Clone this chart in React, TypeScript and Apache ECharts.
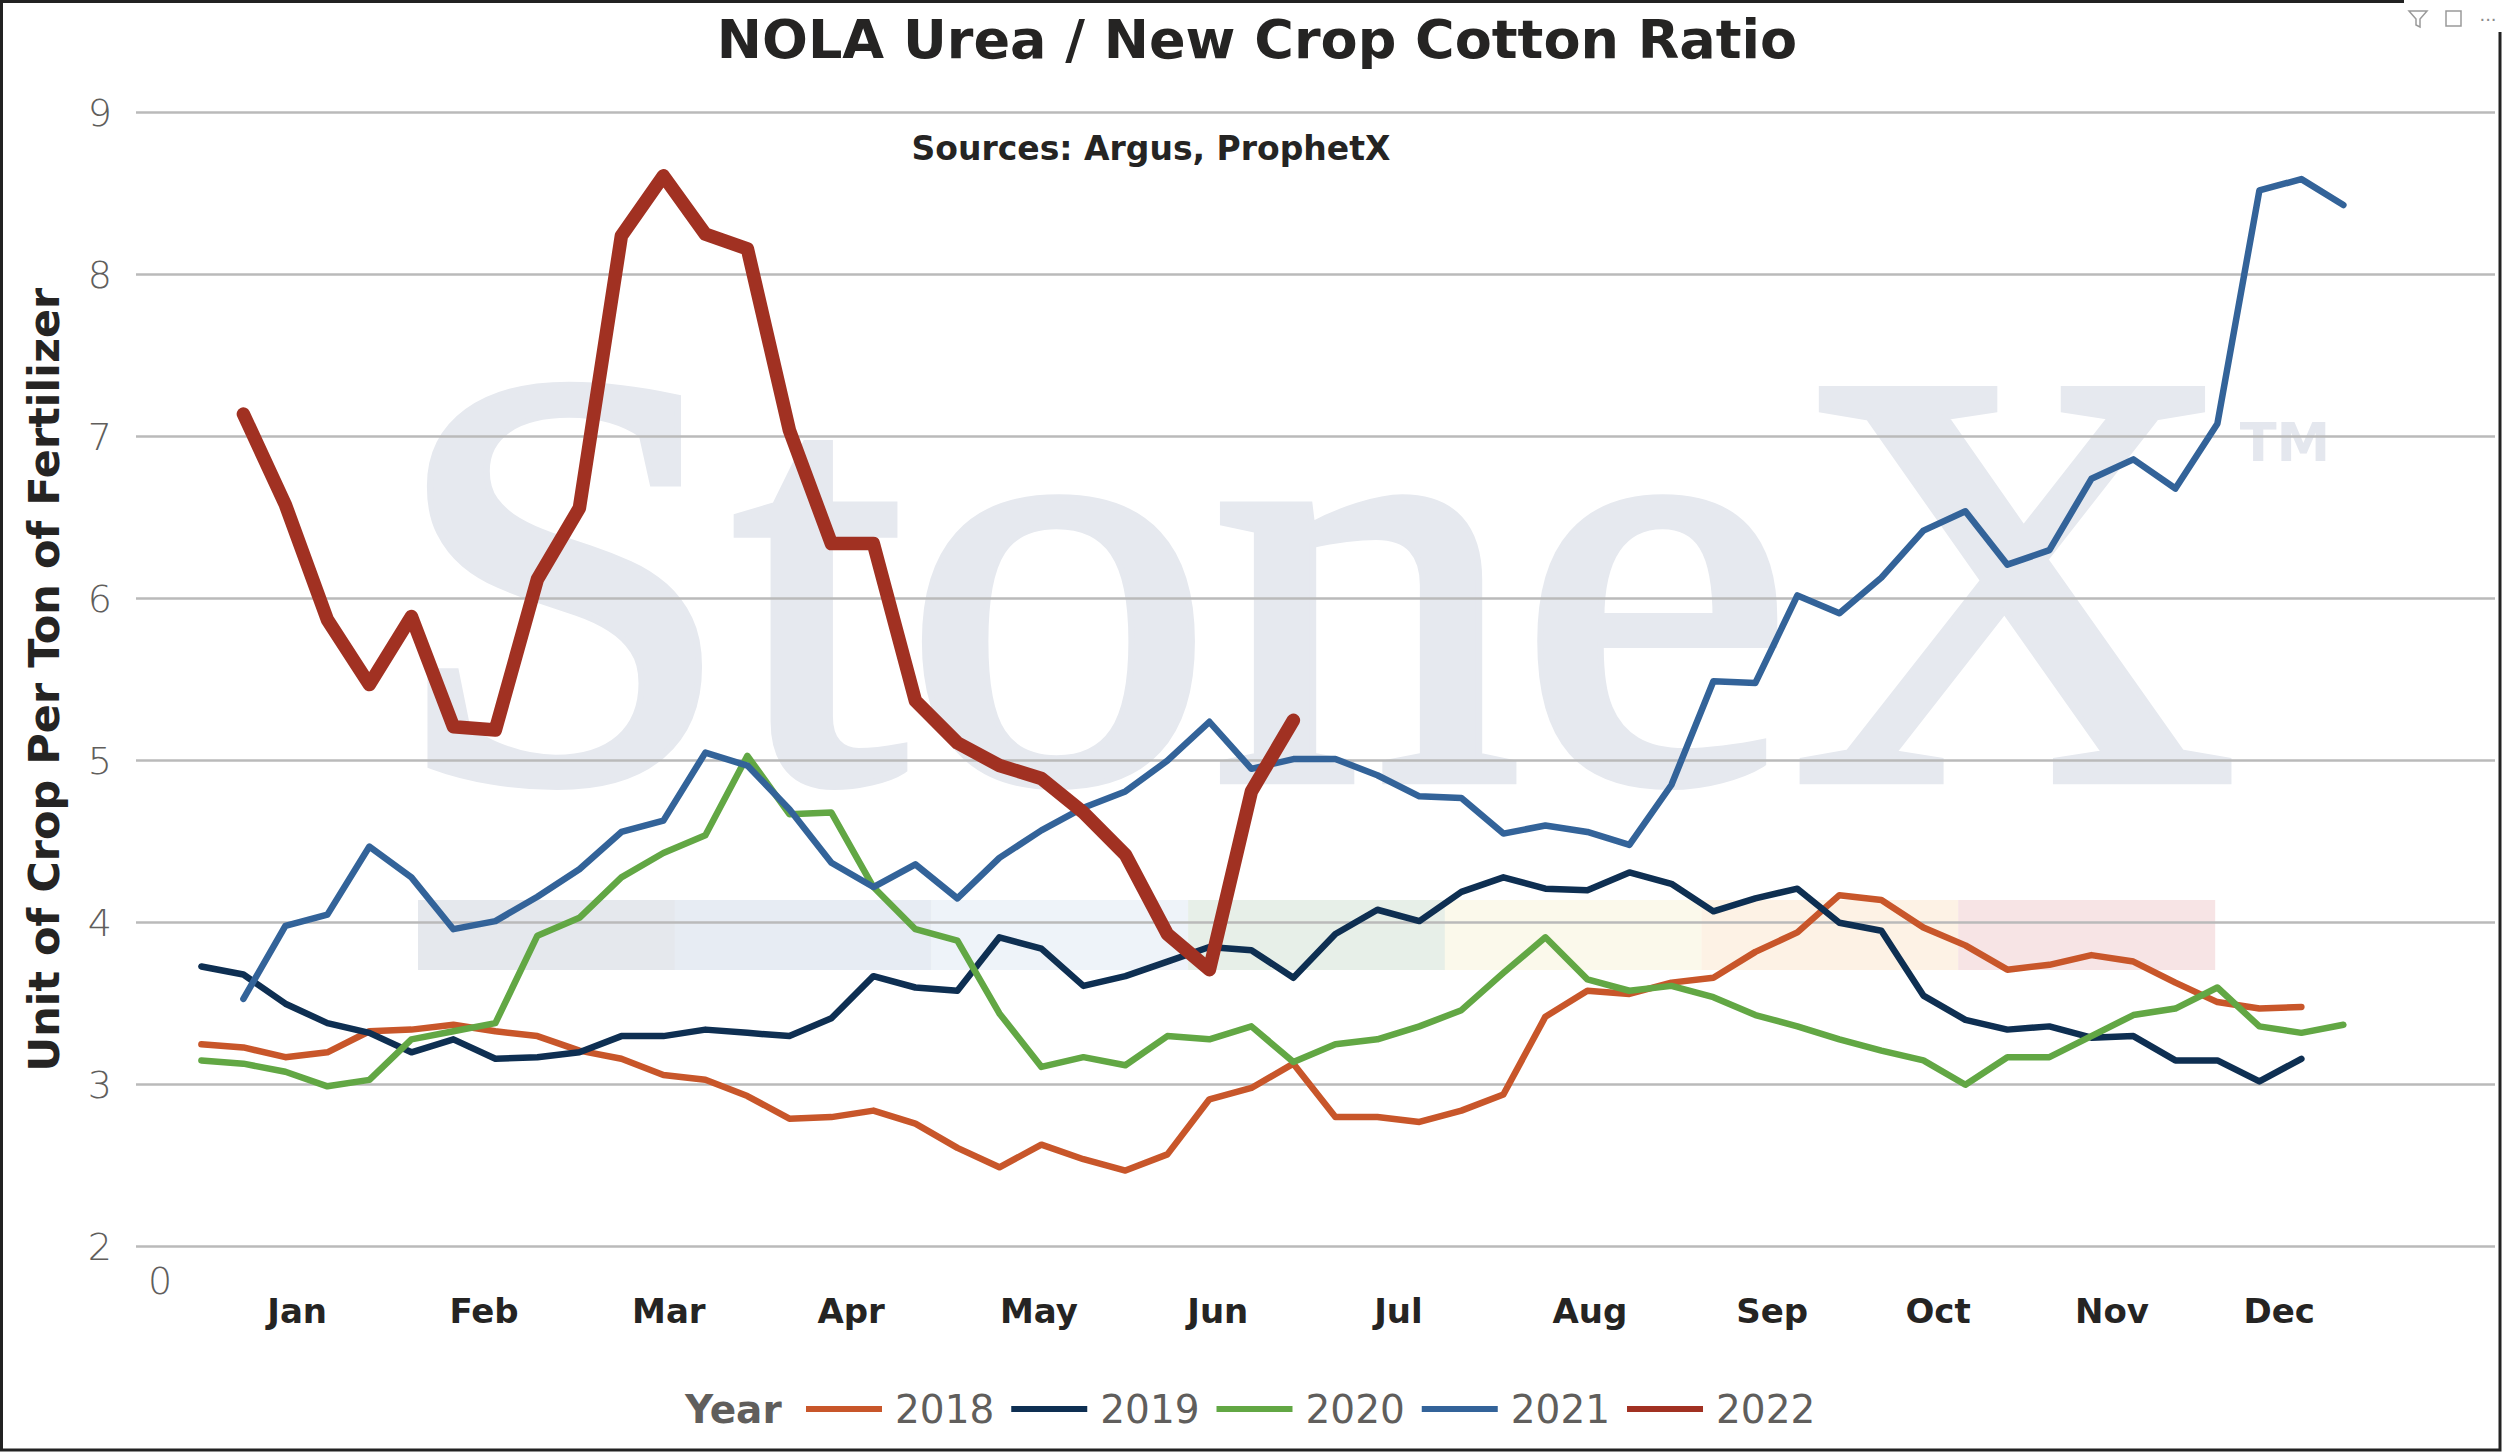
import React, { useEffect, useRef } from "react";
import * as echarts from "echarts";

// weekly NOLA urea / new crop cotton ratio, x = week slot of the year
const years = ["2018", "2019", "2020", "2021", "2022"];
const yearColors = ["#C8562A", "#0E2F52", "#62A744", "#336399", "#A13122"];
const firstWeek = [0, 0, 0, 1, 1];

const ratio2018 = [
  3.25, 3.23, 3.17, 3.2, 3.33, 3.34, 3.37, 3.33, 3.3, 3.21, 3.16, 3.06, 3.03,
  2.93, 2.79, 2.8, 2.84, 2.76, 2.61, 2.49, 2.63, 2.54, 2.47, 2.57, 2.91, 2.98,
  3.13, 2.8, 2.8, 2.77, 2.84, 2.94, 3.42, 3.58, 3.56, 3.63, 3.66, 3.82, 3.94,
  4.17, 4.14, 3.97, 3.86, 3.71, 3.74, 3.8, 3.76, 3.63, 3.51, 3.47, 3.48,
];
const ratio2019 = [
  3.73, 3.68, 3.5, 3.38, 3.32, 3.2, 3.28, 3.16, 3.17, 3.2, 3.3, 3.3, 3.34,
  3.32, 3.3, 3.41, 3.67, 3.6, 3.58, 3.91, 3.84, 3.61, 3.67, 3.76, 3.85, 3.83,
  3.66, 3.93, 4.08, 4.01, 4.19, 4.28, 4.21, 4.2, 4.31, 4.24, 4.07, 4.15, 4.21,
  4.0, 3.95, 3.55, 3.4, 3.34, 3.36, 3.29, 3.3, 3.15, 3.15, 3.02, 3.16,
];
const ratio2020 = [
  3.15, 3.13, 3.08, 2.99, 3.03, 3.28, 3.33, 3.38, 3.92, 4.03, 4.28, 4.43, 4.54,
  5.03, 4.67, 4.68, 4.22, 3.96, 3.89, 3.44, 3.11, 3.17, 3.12, 3.3, 3.28, 3.36,
  3.14, 3.25, 3.28, 3.36, 3.46, 3.69, 3.91, 3.65, 3.58, 3.61, 3.54, 3.43, 3.36,
  3.28, 3.21, 3.15, 3.0, 3.17, 3.17, 3.3, 3.43, 3.47, 3.6, 3.36, 3.32, 3.37,
];
const ratio2021 = [
  3.53, 3.98, 4.05, 4.47, 4.28, 3.96, 4.01, 4.16, 4.33, 4.56, 4.63, 5.05, 4.97,
  4.7, 4.37, 4.22, 4.36, 4.15, 4.4, 4.57, 4.71, 4.81, 5.0, 5.24, 4.95, 5.01,
  5.01, 4.91, 4.78, 4.77, 4.55, 4.6, 4.56, 4.48, 4.85, 5.49, 5.48, 6.02, 5.91,
  6.13, 6.42, 6.54, 6.21, 6.3, 6.74, 6.86, 6.68, 7.08, 8.52, 8.59, 8.43,
];
const ratio2022 = [
  7.14, 6.58, 5.87, 5.47, 5.89, 5.21, 5.19, 6.12, 6.56, 8.24, 8.61, 8.25, 8.16,
  7.04, 6.34, 6.34, 5.37, 5.11, 4.97, 4.89, 4.68, 4.42, 3.93, 3.71, 4.81, 5.25,
];
const ratios = [ratio2018, ratio2019, ratio2020, ratio2021, ratio2022];

const months = ["Jan", "Feb", "Mar", "Apr", "May", "Jun", "Jul", "Aug", "Sep", "Oct", "Nov", "Dec"];
const monthWeeks = [2.28, 6.73, 11.13, 15.47, 19.94, 24.2, 28.5, 33.06, 37.4, 41.35, 45.49, 49.47];

// light colour bar under the StoneX watermark
const bandColors = ["#E5E8ED", "#E7ECF3", "#EEF3F9", "#E7EFE8", "#FBF9EB", "#FDF2E5", "#F7E4E5"];

const W = 2502;
const H = 1452;

export default function App() {
  const chartRef = useRef<HTMLDivElement>(null);

  useEffect(() => {
    document.body.style.margin = "0";
    if (!chartRef.current) return;
    const chart = echarts.init(chartRef.current, null, { renderer: "svg" });

    const font = "DejaVu Sans";

    const option: any = {
      animation: false,
      backgroundColor: "#ffffff",
      title: [
        {
          text: "NOLA Urea / New Crop Cotton Ratio",
          left: 1257,
          textAlign: "center",
          top: 12,
          padding: 0,
          textStyle: { fontFamily: font, fontSize: 54, fontWeight: "bold", color: "#252423" },
        },
        {
          text: "Sources: Argus, ProphetX",
          left: 1151,
          textAlign: "center",
          top: 132,
          padding: 0,
          textStyle: { fontFamily: font, fontSize: 33, fontWeight: "bold", color: "#252423" },
        },
      ],
      legend: {
        data: years,
        left: 806,
        top: 1387,
        padding: 0,
        icon: "rect",
        itemWidth: 76,
        itemHeight: 6,
        itemGap: 17,
        selectedMode: false,
        textStyle: {
          fontFamily: font,
          fontSize: 39,
          color: "#605E5C",
          lineHeight: 44,
          padding: [0, 0, 0, 8],
        },
      },
      grid: {
        left: 136,
        right: 7,
        top: 112.7,
        bottom: H - 1246.7,
        containLabel: false,
        outerBoundsMode: "none",
      },
      xAxis: {
        type: "value",
        min: -1.557,
        max: 54.61,
        axisLine: { show: false },
        axisTick: { show: false },
        splitLine: { show: false },
        axisLabel: {
          customValues: monthWeeks,
          formatter: (v: number) => {
            let best = 0;
            monthWeeks.forEach((m, i) => {
              if (Math.abs(m - v) < Math.abs(monthWeeks[best] - v)) best = i;
            });
            return months[best];
          },
          margin: 47,
          fontFamily: font,
          fontSize: 34,
          fontWeight: "bold",
          color: "#252423",
        },
      },
      yAxis: {
        type: "value",
        min: 2,
        max: 9,
        interval: 1,
        name: "Unit of Crop Per Ton of Fertilizer",
        nameLocation: "middle",
        nameGap: 71,
        nameTextStyle: { fontFamily: font, fontSize: 43, fontWeight: "bold", color: "#252423" },
        axisLine: { show: false },
        axisTick: { show: false },
        axisLabel: {
          margin: 24,
          fontFamily: font,
          fontSize: 38,
          fontWeight: 200,
          color: "#605E5C",
        },
        splitLine: { lineStyle: { color: "#BABABA", width: 2.7 } },
      },
      series: years.map((y, k) => ({
        name: y,
        type: "line",
        data: ratios[k].map((v, i) => [firstWeek[k] + i, v]),
        symbol: "none",
        showSymbol: false,
        silent: true,
        z: 2 + k,
        color: yearColors[k],
        lineStyle: {
          color: yearColors[k],
          width: y === "2022" ? 13.5 : 6.5,
          cap: "round",
          join: "round",
        },
      })),
      graphic: [
        ...bandColors.map((c, i) => ({
          type: "rect",
          z: -10,
          silent: true,
          shape: { x: 418 + i * 256.7, y: 900, width: 257, height: 70 },
          style: { fill: c },
        })),
        {
          type: "text",
          z: -10,
          silent: true,
          x: 392,
          y: 579,
          scaleX: 1.042,
          style: {
            text: "StoneX",
            font: '590px "Liberation Serif"',
            fill: "#E6E9EF",
            stroke: "#E6E9EF",
            lineWidth: 12,
            textAlign: "left",
            textVerticalAlign: "middle",
          },
        },
        {
          type: "text",
          z: -10,
          silent: true,
          x: 2285,
          y: 442,
          style: {
            text: "TM",
            font: 'bold 54px "DejaVu Sans"',
            fill: "#E4E7EE",
            textAlign: "center",
            textVerticalAlign: "middle",
          },
        },
        {
          type: "text",
          silent: true,
          x: 160,
          y: 1281,
          style: {
            text: "0",
            font: '200 38px "DejaVu Sans"',
            fill: "#605E5C",
            textAlign: "center",
            textVerticalAlign: "middle",
          },
        },
        {
          type: "text",
          silent: true,
          x: 685,
          y: 1409,
          style: {
            text: "Year",
            font: 'bold 39px "DejaVu Sans"',
            fill: "#605E5C",
            textAlign: "left",
            textVerticalAlign: "middle",
          },
        },
        // frame and visual header icons
        {
          type: "polyline",
          z: 100,
          silent: true,
          shape: { points: [[2404, 1.5], [1.5, 1.5], [1.5, 1450], [2500, 1450], [2500, 32]] },
          style: { stroke: "#222222", lineWidth: 3, fill: null },
        },
        {
          type: "polygon",
          z: 100,
          silent: true,
          shape: { points: [[2409, 11], [2427, 11], [2420, 19], [2420, 27], [2416, 25], [2416, 19]] },
          style: { stroke: "#9A9A9A", lineWidth: 1.5, fill: null },
        },
        {
          type: "rect",
          z: 100,
          silent: true,
          shape: { x: 2446, y: 11, width: 15, height: 15 },
          style: { stroke: "#9A9A9A", lineWidth: 1.5, fill: null },
        },
        {
          type: "text",
          z: 100,
          silent: true,
          x: 2488,
          y: 14,
          style: {
            text: "...",
            font: '18px "DejaVu Sans"',
            fill: "#8A8A8A",
            textAlign: "center",
            textVerticalAlign: "middle",
          },
        },
      ],
    };

    chart.setOption(option);
    return () => chart.dispose();
  }, []);

  return <div ref={chartRef} style={{ width: W, height: H }} />;
}
